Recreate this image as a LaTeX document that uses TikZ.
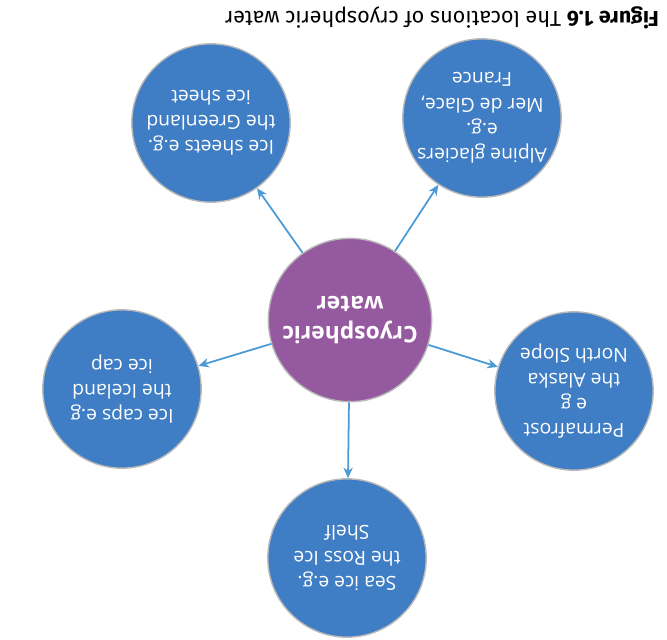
\documentclass[tikz,border=0pt]{standalone}
\usepackage{fontspec}
\setmainfont{Fira Sans}
\newfontfamily\cryofont{Open Sans}
\usetikzlibrary{arrows.meta}

\definecolor{iceblue}{HTML}{3F7DC4}
\definecolor{cryopurple}{HTML}{95599F}
\definecolor{arrowblue}{HTML}{4B9AD6}

\tikzset{
  place/.style={circle, fill=iceblue, draw=gray!55, line width=1.2pt,
    minimum size=4.75cm, inner sep=0pt, text=white, align=center,
    font=\cryofont\fontsize{16.5}{21.5}\selectfont, rotate=180},
  hub/.style={place, fill=cryopurple, minimum size=4.9cm,
    font=\cryofont\fontsize{19.5}{25}\selectfont\bfseries},
  feed/.style={arrowblue, line width=1.5pt, -{Stealth[length=9pt,width=8pt]}}
}

\begin{document}
\begin{tikzpicture}[x=0.03cm, y=-0.03cm]
        \useasboundingbox (0,0) rectangle (667,639);

        % Centre
        \node[hub] (cryo) at (350,320) {Cryospheric\\water};

        % Stores
        \node[place] (alpine) at (482,118) {Alpine glaciers\\e.g.\\Mer de Glace,\\France};
        \node[place] (sheets) at (211,123) {Ice sheets e.g.\\the Greenland\\ice sheet};
        \node[place] (perma) at (574,391) {Permafrost\\e g\\the Alaska\\North Slope};
        \node[place] (caps) at (122,389) {Ice caps e.g\\the Iceland\\ice cap};
        \node[place] (sea) at (347,558) {Sea ice e.g.\\the Ross Ice\\Shelf};

        % Arrows
        \draw[feed] (cryo) -- (alpine);
        \draw[feed] (cryo) -- (sheets);
        \draw[feed] (cryo) -- (perma);
        \draw[feed] (cryo) -- (caps);
        \draw[feed] (cryo) -- (sea);

        % Caption
        \node[rotate=180, font=\fontsize{18.4}{20}\selectfont] (caption) at (442,18)
          {\textbf{Figure 1.6} The locations of cryospheric water};
\end{tikzpicture}
\end{document}
